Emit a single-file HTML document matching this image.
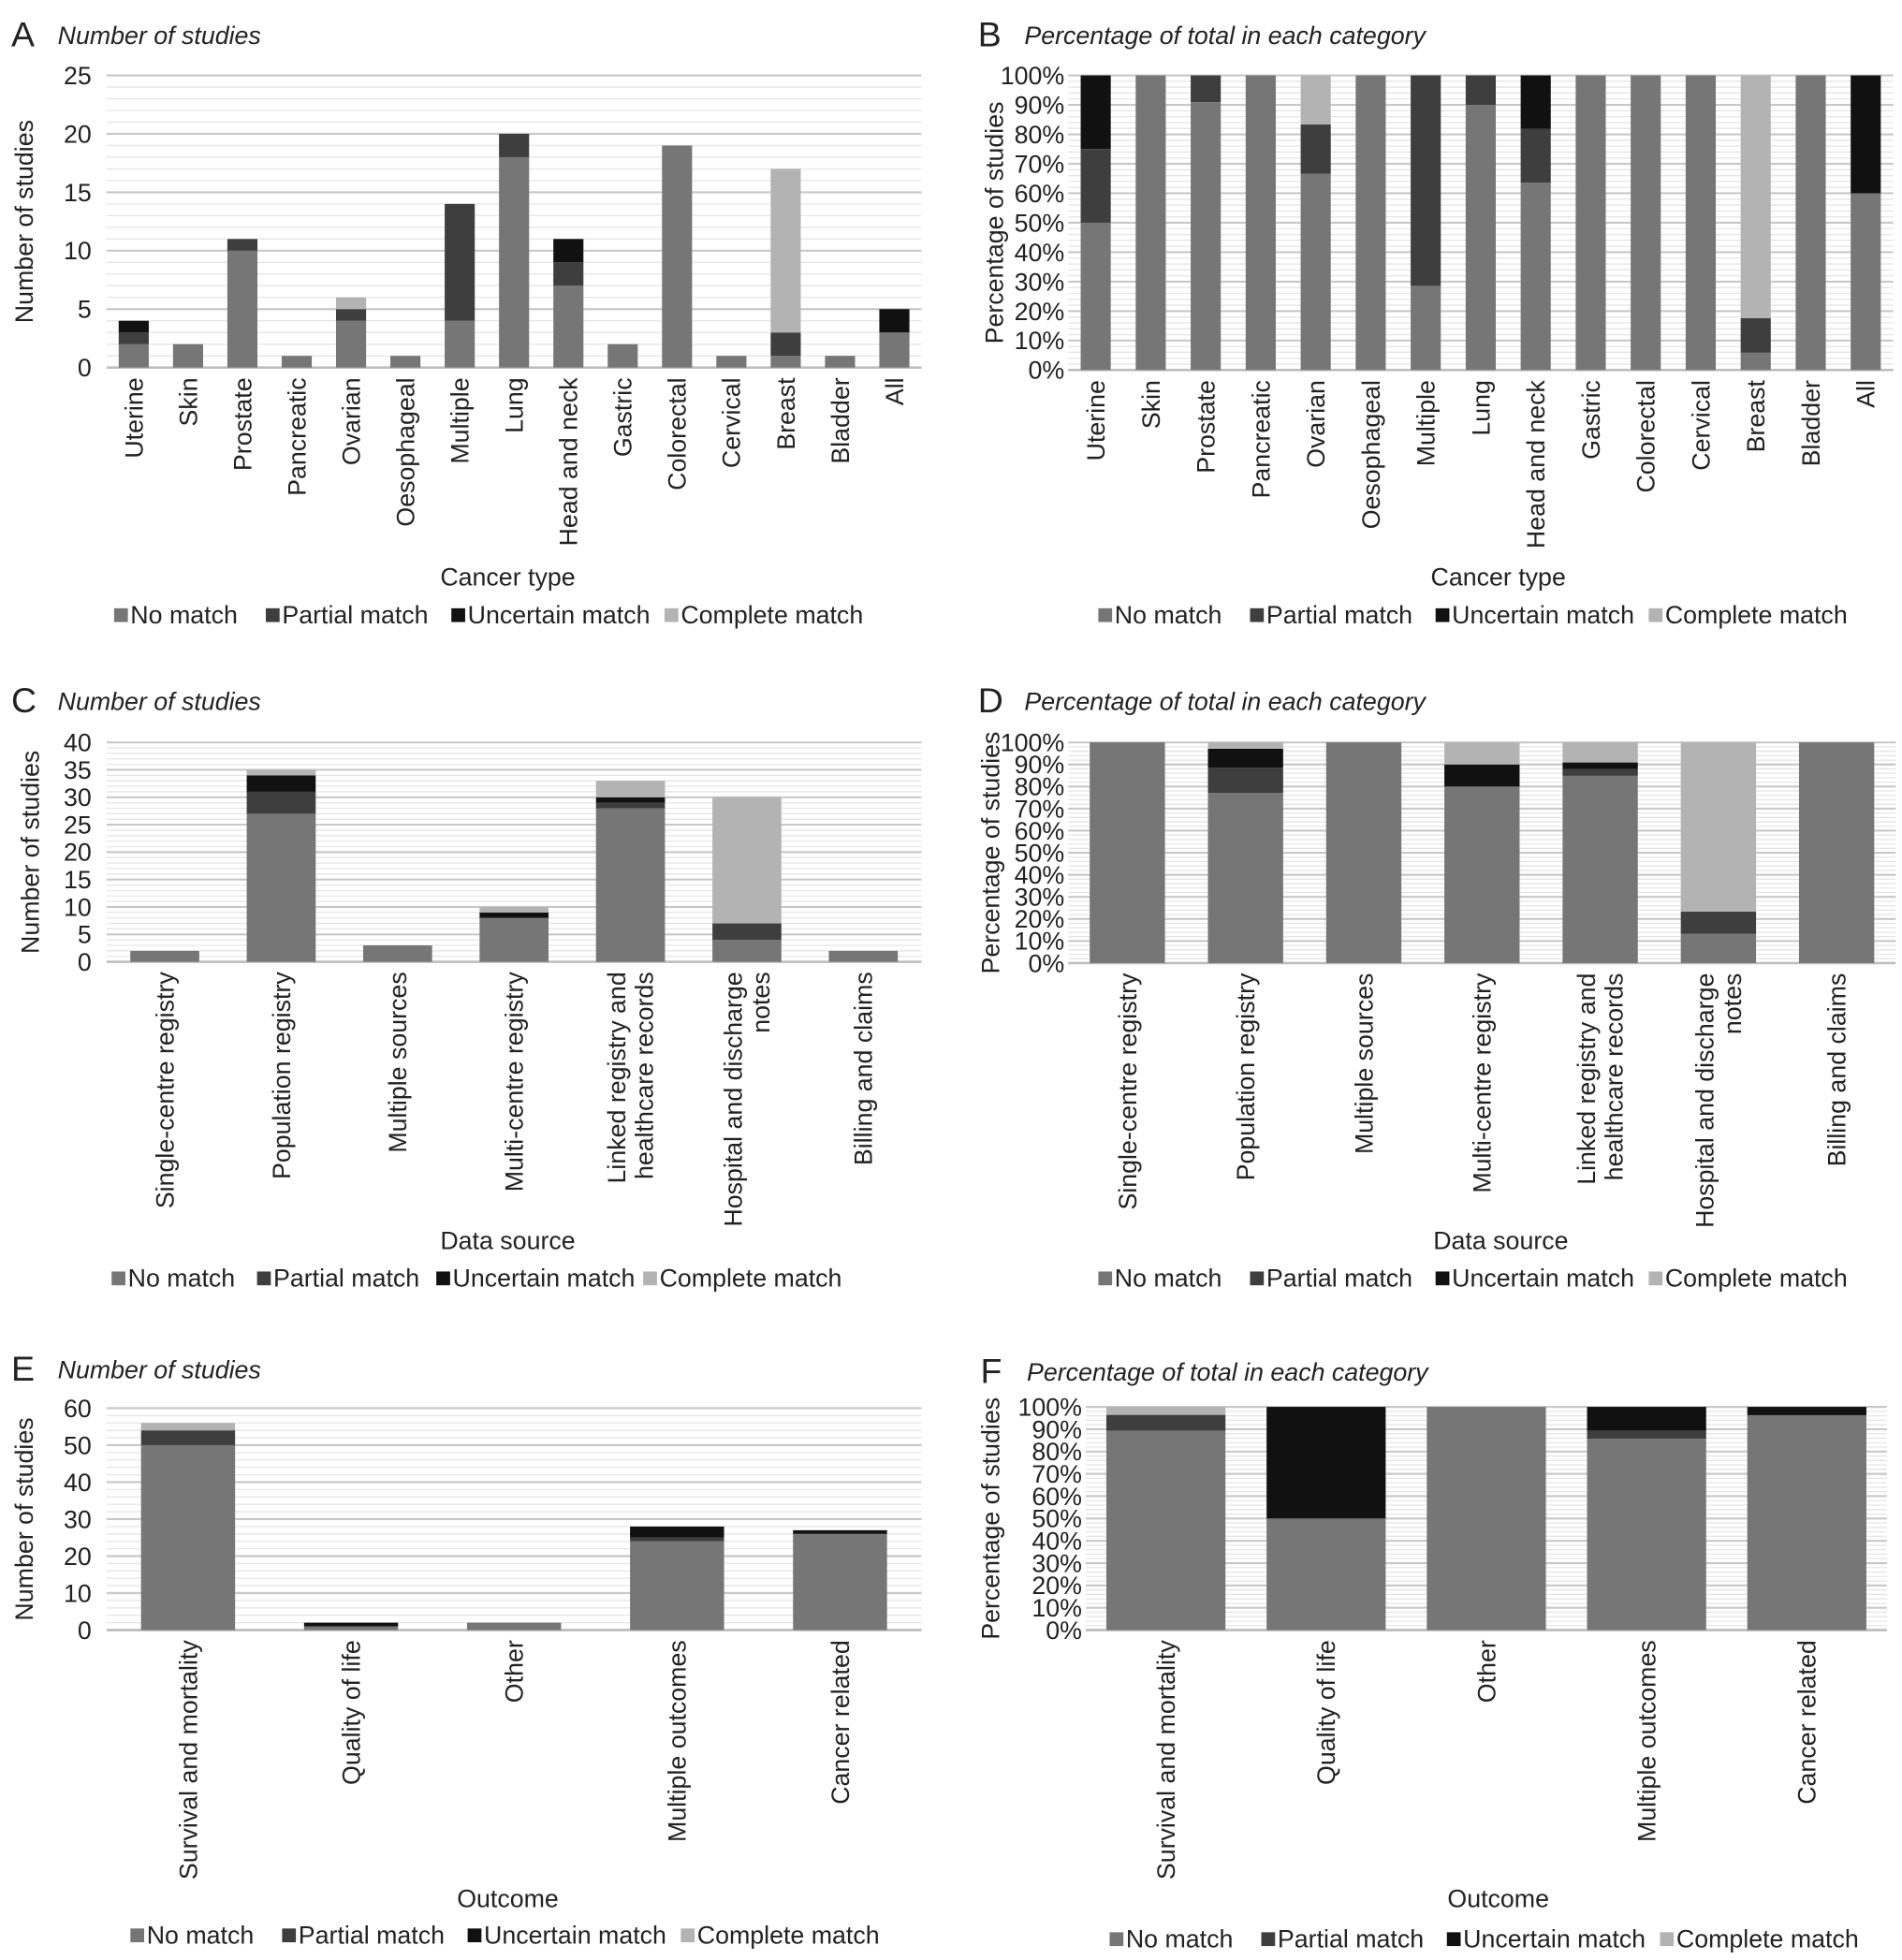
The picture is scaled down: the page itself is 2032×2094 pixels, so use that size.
<!DOCTYPE html>
<html><head><meta charset="utf-8"><style>
html,body{margin:0;padding:0;background:#fff}
svg{display:block}
text{font-family:"Liberation Sans",sans-serif;fill:#222}
</style></head><body>
<svg id="fig" width="2032" height="2094" viewBox="0 0 1517 1563" xmlns="http://www.w3.org/2000/svg"></svg>
<script>
const seriesNames = ["No match","Partial match","Uncertain match","Complete match"];
const seriesColors = ["#767676","#3e3e3e","#111111","#b3b3b3"];

const cancerCats = ["Uterine","Skin","Prostate","Pancreatic","Ovarian","Oesophageal","Multiple","Lung","Head and neck","Gastric","Colorectal","Cervical","Breast","Bladder","All"];
const cancerNoMatch = [2,2,10,1,4,1,4,18,7,2,19,1,1,1,3];
const cancerPartial = [1,0,1,0,1,0,10,2,2,0,0,0,2,0,0];
const cancerUncertain = [1,0,0,0,0,0,0,0,2,0,0,0,0,0,2];
const cancerComplete = [0,0,0,0,1,0,0,0,0,0,0,0,14,0,0];

const sourceCats = [["Single-centre registry"],["Population registry"],["Multiple sources"],["Multi-centre registry"],["Linked registry and","healthcare records"],["Hospital and discharge","notes"],["Billing and claims"]];
const sourceNoMatch = [2,27,3,8,28,4,2];
const sourcePartial = [0,4,0,0,1,3,0];
const sourceUncertain = [0,3,0,1,1,0,0];
const sourceComplete = [0,1,0,1,3,23,0];

const outcomeCats = ["Survival and mortality","Quality of life","Other","Multiple outcomes","Cancer related"];
const outcomeNoMatch = [50,1,2,24,26];
const outcomePartial = [4,0,0,1,0];
const outcomeUncertain = [0,1,0,3,1];
const outcomeComplete = [2,0,0,0,0];

const countTicksA = [0,5,10,15,20,25];
const countTicksC = [0,5,10,15,20,25,30,35,40];
const countTicksE = [0,10,20,30,40,50,60];
const pctTicks = [0,10,20,30,40,50,60,70,80,90,100];

const NS="http://www.w3.org/2000/svg";
const svg=document.getElementById('fig');
function el(tag,attrs,parent){const e=document.createElementNS(NS,tag);for(const k in attrs)e.setAttribute(k,attrs[k]);(parent||svg).appendChild(e);return e;}
const FS=20;

function panel(p){
  const g=el('g',{});
  
  
  const series=p.series;
  const n=p.cats.length;
  let vals=series;
  if(p.pct){
    vals=series.map(s=>s.map((v,i)=>{let t=0;series.forEach(ss=>t+=ss[i]);return t?v/t*100:0;}));
  }
  const ymax=p.ticks[p.ticks.length-1];
  const y=v=>p.y1-(v/ymax)*(p.y1-p.y0);
  const bw=(p.x1-p.x0)/n;
  const x=i=>p.x0+bw*(i+0.5);
  const step=p.ticks[1]-p.ticks[0];
  const minor=step/5;
  for(let v=0;v<=ymax+1e-9;v+=minor){
    const ln=el('line',{x1:p.x0,x2:p.x1,y1:y(v),y2:y(v),stroke:'#e6e6e6','stroke-width':1},g);
    
    
  }
  p.ticks.forEach(t=>{
    const ln=el('line',{x1:p.x0,x2:p.x1,y1:y(t),y2:y(t),stroke:t===0?'#bdbdbd':'#c8c8c8','stroke-width':t===0?2:1.6},g);
    
    
    const label=t+(p.pct?'%':'');
    const tx=el('text',{x:p.x0-(p.pct?3:12),y:y(t)+7,'text-anchor':'end','font-size':FS},g);
    tx.textContent=label;
    
    
  });
  for(let i=0;i<n;i++){
    let acc=0;
    vals.forEach((s,k)=>{
      if(s[i]>0){
        const r=el('rect',{x:x(i)-p.barW/2,y:y(acc+s[i]),width:p.barW,height:y(acc)-y(acc+s[i]),fill:seriesColors[k]},g);
        
        
      }
      acc+=s[i];
    });
  }
  p.cats.forEach((c,i)=>{
    const lines=Array.isArray(c)?c:[c];
    lines.forEach((ln,j)=>{
      const off=(j-(lines.length-1)/2)*22;
      const tx=el('text',{x:0,y:0,'text-anchor':'end','font-size':FS,transform:`translate(${x(i)+7+off},${p.y1+8}) rotate(-90)`},g);
      tx.textContent=ln;
      
      
    });
  });
  let t=el('text',{x:p.lx,y:p.ty+9,'font-size':28},g);t.textContent=p.letter;
  
  t=el('text',{x:p.lx+37,y:p.ty+7,'font-size':20,'font-style':'italic'},g);t.textContent=p.title;
  
  t=el('text',{x:0,y:0,'text-anchor':'middle','font-size':FS,transform:`translate(${p.yax},${(p.y0+p.y1)/2}) rotate(-90)`},g);t.textContent=p.pct?'Percentage of studies':'Number of studies';
  
  t=el('text',{x:p.xtx,y:p.xty,'text-anchor':'middle','font-size':FS},g);t.textContent=p.xtitle;
  
  let lx=p.legx;
  const ly=p.legy;
  const widths=[116,143,165,160];
  seriesNames.forEach((s,k)=>{
    const r=el('rect',{x:lx,y:ly-12,width:11,height:11,fill:seriesColors[k]},g);
    
    const tx=el('text',{x:lx+13,y:ly,'font-size':FS},g);tx.textContent=s;
    
    lx+=widths[k]+p.legGap;
  });
}
const cS=[cancerNoMatch,cancerPartial,cancerUncertain,cancerComplete];
const sS=[sourceNoMatch,sourcePartial,sourceUncertain,sourceComplete];
const oS=[outcomeNoMatch,outcomePartial,outcomeUncertain,outcomeComplete];
panel({letter:'A',title:'Number of studies',cats:cancerCats,series:cS,ticks:countTicksA,pct:false,x0:85,x1:735,y0:60,y1:293,barW:24,lx:9,ty:28,yax:26,xtx:405,xty:467,xtitle:'Cancer type',legx:91,legy:497,legGap:5});
panel({letter:'B',title:'Percentage of total in each category',cats:cancerCats,series:cS,ticks:pctTicks,pct:true,x0:852,x1:1510,y0:60,y1:295,barW:24,lx:780,ty:28,yax:800,xtx:1195,xty:467,xtitle:'Cancer type',legx:876,legy:497,legGap:5});
panel({letter:'C',title:'Number of studies',cats:sourceCats,series:sS,ticks:countTicksC,pct:false,x0:85,x1:735,y0:592,y1:767,barW:55,lx:9,ty:559,yax:31,xtx:405,xty:996,xtitle:'Data source',legx:89,legy:1026,legGap:0});
panel({letter:'D',title:'Percentage of total in each category',cats:sourceCats,series:sS,ticks:pctTicks,pct:true,x0:852,x1:1512,y0:592,y1:768,barW:60,lx:780,ty:559,yax:797,xtx:1197,xty:996,xtitle:'Data source',legx:876,legy:1026,legGap:5});
panel({letter:'E',title:'Number of studies',cats:outcomeCats,series:oS,ticks:countTicksE,pct:false,x0:85,x1:735,y0:1123,y1:1300,barW:75,lx:9,ty:1092,yax:26,xtx:405,xty:1521,xtitle:'Outcome',legx:104,legy:1550,legGap:5});
panel({letter:'F',title:'Percentage of total in each category',cats:outcomeCats,series:oS,ticks:pctTicks,pct:true,x0:866,x1:1505,y0:1122,y1:1300,barW:95,lx:782,ty:1094,yax:797,xtx:1195,xty:1521,xtitle:'Outcome',legx:885,legy:1553,legGap:5});
</script>
</body></html>
